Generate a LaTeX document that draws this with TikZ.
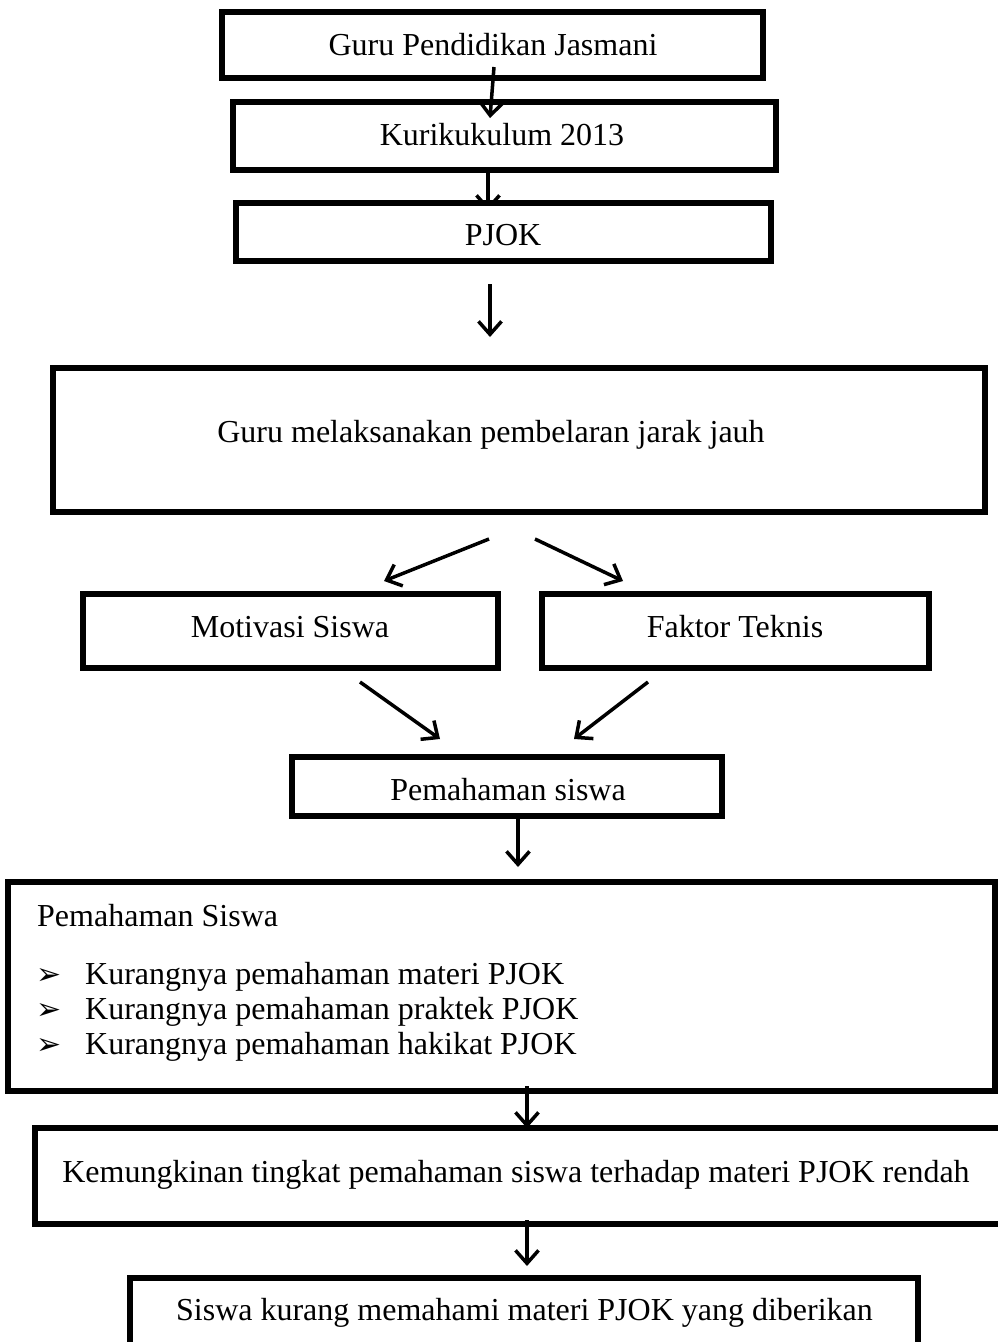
\documentclass[tikz,border=0pt]{standalone}
\usepackage{fontspec}
\setmainfont{Liberation Serif}
\newfontfamily\symfont{DejaVu Sans}
\usetikzlibrary{arrows.meta,calc}
\begin{document}
\begin{tikzpicture}[x=1pt,y=-1pt,
  box/.style={draw=black,line width=6pt,rectangle,inner sep=0pt},
  txt/.style={inner sep=0pt,anchor=base,font=\fontsize{32}{38}\selectfont},
  ltxt/.style={inner sep=0pt,anchor=base west,font=\fontsize{32}{38}\selectfont},
  bul/.style={inner sep=0pt,anchor=base west,font=\symfont\fontsize{30}{36}\selectfont},
  arr/.style={line width=3.5pt,-{Straight Barb[length=13pt,width=23pt]}}]
\clip (0,0) rectangle (998,1342);
\fill[white] (0,0) rectangle (998,1342);

% arrow end points
\coordinate (a1s) at (494,67);   \coordinate (a1e) at (490,118);
\coordinate (a2s) at (488,170);  \coordinate (a2e) at (488,211);
\coordinate (a3s) at (490,284);  \coordinate (a3e) at (490,337);
\coordinate (a4s) at (489,539);  \coordinate (a4e) at (384,581);
\coordinate (a5s) at (535,539);  \coordinate (a5e) at (623,581);
\coordinate (a6s) at (360,682);  \coordinate (a6e) at (440,739);
\coordinate (a7s) at (648,682);  \coordinate (a7e) at (574,739);
\coordinate (a8s) at (518,816);  \coordinate (a8e) at (518,867);
\coordinate (a9s) at (527,1086); \coordinate (a9e) at (527,1128);
\coordinate (a10s) at (527,1220); \coordinate (a10e) at (527,1266);

% arrow hidden under the PJOK box
\draw[arr] (a2s) -- (a2e);

% boxes
\node[box,minimum width=541pt,minimum height=66pt] (b1) at (492.5,45) {};
\node[box,minimum width=543pt,minimum height=68pt] (b2) at (504.5,136) {};
\node[box,fill=white,minimum width=535pt,minimum height=58pt] (b3) at (503.5,232) {};
\node[box,minimum width=932pt,minimum height=144pt] (b4) at (519,440) {};
\node[box,minimum width=415pt,minimum height=74pt] (b5) at (290.5,631) {};
\node[box,minimum width=387pt,minimum height=74pt] (b6) at (735.5,631) {};
\node[box,minimum width=430pt,minimum height=59pt] (b7) at (507,786.5) {};
\node[box,minimum width=987pt,minimum height=209pt] (b8) at (501.5,986.5) {};
\node[box,minimum width=985pt,minimum height=96pt] (b9) at (527.5,1176) {};
\node[box,minimum width=788pt,minimum height=100pt] (b10) at (524,1328) {};

% texts
\node[txt] (t1) at (493,55) {Guru Pendidikan Jasmani};
\node[txt] (t2) at (502,145) {Kurikukulum 2013};
\node[txt] (t3) at (503,245) {PJOK};
\node[txt] (t4) at (491,442) {Guru melaksanakan pembelaran jarak jauh};
\node[txt] (t5) at (290,637) {Motivasi Siswa};
\node[txt] (t6) at (735,637) {Faktor Teknis};
\node[txt] (t7) at (508,800) {Pemahaman siswa};
\node[ltxt] (t8) at (37,926) {Pemahaman Siswa};
\node[bul] (u1) at (36,984) {➢};
\node[ltxt] (l1) at (85,984) {Kurangnya pemahaman materi PJOK};
\node[bul] (u2) at (36,1019) {➢};
\node[ltxt] (l2) at (85,1019) {Kurangnya pemahaman praktek PJOK};
\node[bul] (u3) at (36,1054) {➢};
\node[ltxt] (l3) at (85,1054) {Kurangnya pemahaman hakikat PJOK};
\node[txt] (t9) at (516,1182) {Kemungkinan tingkat pemahaman siswa terhadap materi PJOK rendah};
\node[txt] (t10) at (524.5,1320) {Siswa kurang memahami materi PJOK yang diberikan};

\draw[arr] (a1s) -- (a1e);
\draw[arr] (a3s) -- (a3e);
\draw[arr] (a4s) -- (a4e);
\draw[arr] (a5s) -- (a5e);
\draw[arr] (a6s) -- (a6e);
\draw[arr] (a7s) -- (a7e);
\draw[arr] (a8s) -- (a8e);
\draw[arr] (a9s) -- (a9e);
\draw[arr] (a10s) -- (a10e);
\end{tikzpicture}
\end{document}
